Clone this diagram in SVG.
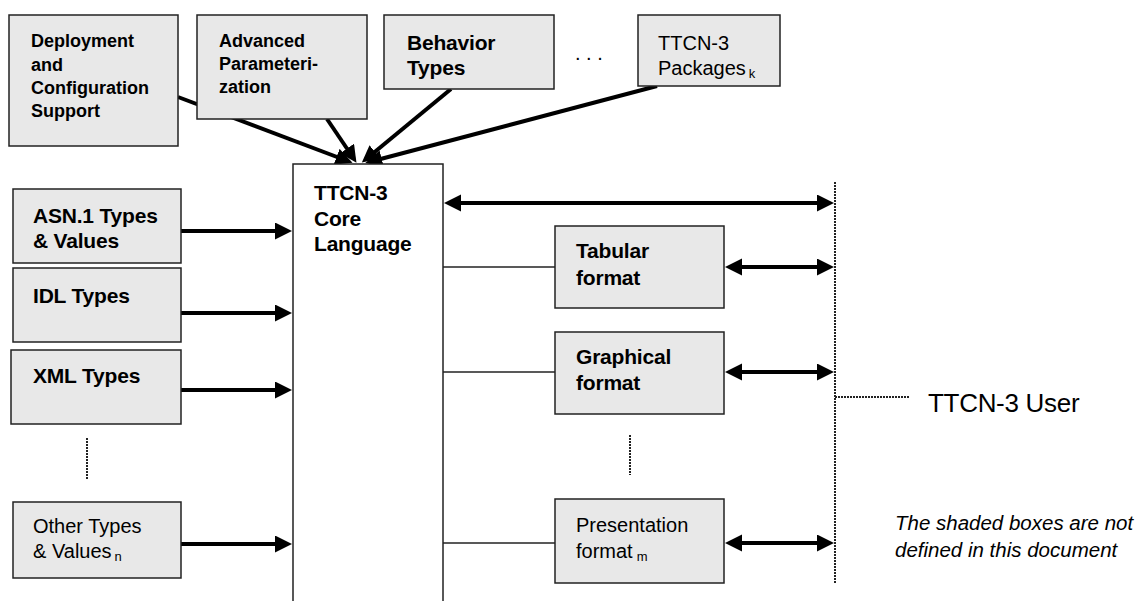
<svg xmlns="http://www.w3.org/2000/svg" width="1138" height="601" viewBox="0 0 1138 601">
<style>
.box{fill:#e8e8e8;stroke:#222;stroke-width:1.5}
.core{fill:#fff;stroke:#222;stroke-width:1.5}
.t{font-family:"Liberation Sans",Arial,sans-serif;fill:#000}
.b20{font-size:21px;font-weight:bold;letter-spacing:-0.2px}
.b18{font-size:18px;font-weight:bold}
.r20{font-size:20px}
.sub{font-size:13px}
.arr{stroke:#000;stroke-width:4;fill:none;marker-end:url(#ah)}
.darr{stroke:#000;stroke-width:4;fill:none;marker-end:url(#ah);marker-start:url(#ah)}
.thin{stroke:#222;stroke-width:1.5;fill:none}
.dot{stroke:#222;stroke-width:2;stroke-dasharray:2 1;fill:none}
</style>
<defs>
<marker id="ah" markerUnits="userSpaceOnUse" markerWidth="18" markerHeight="18" refX="9" refY="8.5" orient="auto-start-reverse">
<path d="M0,0 L17,8.5 L0,17 z" fill="#000"/>
</marker>
</defs>
<g id="connectors">
<line class="arr" x1="178" y1="97" x2="345" y2="160"/>
<line class="arr" x1="327" y1="119" x2="352" y2="156"/>
<line class="arr" x1="451" y1="89" x2="368" y2="157.5"/>
<line class="arr" x1="657" y1="86" x2="373" y2="161"/>
<line class="arr" x1="181" y1="231" x2="284" y2="231"/>
<line class="arr" x1="181" y1="313" x2="284" y2="313"/>
<line class="arr" x1="181" y1="390" x2="284" y2="390"/>
<line class="arr" x1="181" y1="544" x2="284" y2="544"/>
<line class="darr" x1="452" y1="203" x2="826" y2="203"/>
<line class="thin" x1="443" y1="267" x2="555" y2="267"/>
<line class="thin" x1="443" y1="372" x2="555" y2="372"/>
<line class="thin" x1="443" y1="543" x2="555" y2="543"/>
<line class="darr" x1="733" y1="267" x2="826" y2="267"/>
<line class="darr" x1="733" y1="372" x2="826" y2="372"/>
<line class="darr" x1="733" y1="543" x2="826" y2="543"/>
<line class="dot" x1="835" y1="182" x2="835" y2="583"/>
<line class="dot" x1="835" y1="397" x2="910" y2="397"/>
<line class="dot" x1="87" y1="438" x2="87" y2="480"/>
<line class="dot" x1="630" y1="435" x2="630" y2="475"/>
</g>
<g id="deployment">
<rect class="box" x="9" y="15" width="169" height="131"/>
<text class="t b18" x="31" y="47">Deployment</text>
<text class="t b18" x="31" y="71">and</text>
<text class="t b18" x="31" y="94">Configuration</text>
<text class="t b18" x="31" y="117">Support</text>
</g>
<g id="advanced">
<rect class="box" x="197" y="15" width="170" height="104"/>
<text class="t b18" x="219" y="47">Advanced</text>
<text class="t b18" x="219" y="70">Parameteri-</text>
<text class="t b18" x="219" y="93">zation</text>
</g>
<g id="behavior">
<rect class="box" x="384" y="15" width="170" height="74"/>
<text class="t b20" x="407" y="50">Behavior</text>
<text class="t b20" x="407" y="75">Types</text>
</g>
<g id="dots-top">
<text class="t r20" x="575" y="60">. . .</text>
</g>
<g id="packages">
<rect class="box" x="638" y="15" width="142" height="71"/>
<text class="t r20" x="658" y="50">TTCN-3</text>
<text class="t r20" x="658" y="75">Packages<tspan class="sub" dx="3" dy="3">k</tspan></text>
</g>
<g id="core">
<rect class="core" x="293" y="164" width="150" height="450"/>
<text class="t b20" x="314" y="200">TTCN-3</text>
<text class="t b20" x="314" y="226">Core</text>
<text class="t b20" x="314" y="251">Language</text>
</g>
<g id="asn1">
<rect class="box" x="13" y="189" width="168" height="74"/>
<text class="t b20" x="33" y="223">ASN.1 Types</text>
<text class="t b20" x="33" y="248">&amp; Values</text>
</g>
<g id="idl">
<rect class="box" x="13" y="268" width="168" height="74"/>
<text class="t b20" x="33" y="303">IDL Types</text>
</g>
<g id="xml">
<rect class="box" x="11" y="350" width="170" height="74"/>
<text class="t b20" x="33" y="383">XML Types</text>
</g>
<g id="other">
<rect class="box" x="13" y="502" width="168" height="76"/>
<text class="t r20" x="33" y="533">Other Types</text>
<text class="t r20" x="33" y="558">&amp; Values<tspan class="sub" dx="3" dy="3">n</tspan></text>
</g>
<g id="tabular">
<rect class="box" x="555" y="226" width="169" height="82"/>
<text class="t b20" x="576" y="258">Tabular</text>
<text class="t b20" x="576" y="285">format</text>
</g>
<g id="graphical">
<rect class="box" x="555" y="332" width="169" height="82"/>
<text class="t b20" x="576" y="364">Graphical</text>
<text class="t b20" x="576" y="390">format</text>
</g>
<g id="presentation">
<rect class="box" x="555" y="499" width="169" height="84"/>
<text class="t r20" x="576" y="532">Presentation</text>
<text class="t r20" x="576" y="558">format<tspan class="sub" dx="4" dy="3">m</tspan></text>
</g>
<g id="user">
<text class="t" x="928" y="412" font-size="26" letter-spacing="-0.3">TTCN-3 User</text>
</g>
<g id="note">
<text class="t" x="895" y="530" font-size="20.5" font-style="italic">The shaded boxes are not</text>
<text class="t" x="895" y="557" font-size="20.5" font-style="italic">defined in this document</text>
</g>
</svg>
